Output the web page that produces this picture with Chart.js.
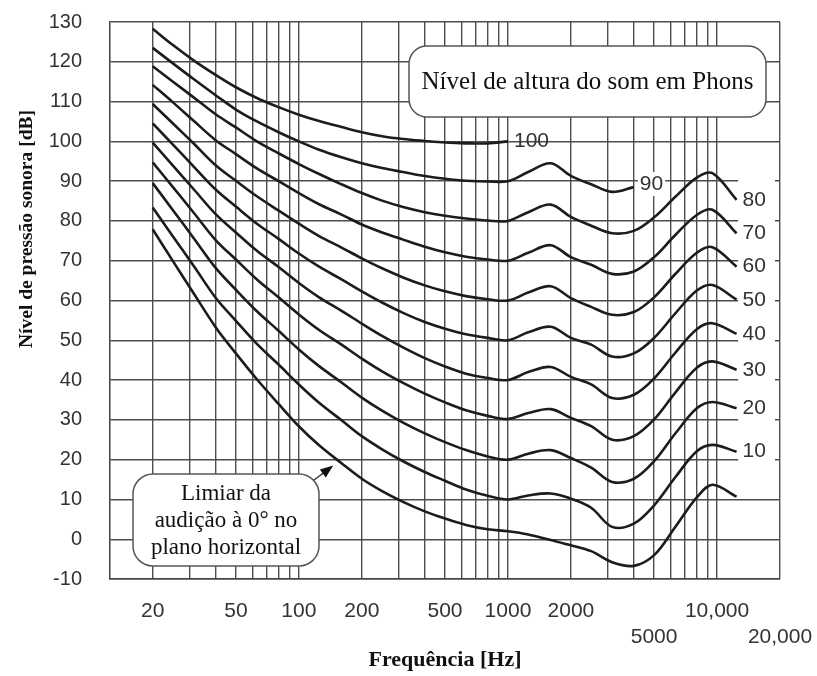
<!DOCTYPE html>
<html>
<head>
<meta charset="utf-8">
<script src="https://cdn.jsdelivr.net/npm/chart.js@4.4.1/dist/chart.umd.min.js"></script>
<style>
html,body{margin:0;padding:0;background:#fff;}
#wrap{width:817px;height:676px;position:relative;}
</style>
</head>
<body>
<div id="wrap"><canvas id="c" width="817" height="676"></canvas></div>
<script>
// Frequencies (Hz) at which the contours were read
const freqs = [20, 25, 31.5, 40, 50, 63, 80, 100, 125, 160, 200, 250, 315, 400, 500, 630, 800, 1000, 1250, 1600, 2000, 2500, 3150, 4000, 5000, 6300, 8000, 9500, 12400];

// Sound pressure level (dB) of each equal-loudness contour
const phon100 = [128.3, 124.2, 120.3, 116.7, 113.6, 110.9, 108.6, 106.7, 105.1, 103.6, 102.3, 101.3, 100.6, 100.1, 99.7, 99.5, 99.5, 100.0, null, null, null, null, null, null, null, null, null, null, null];
const phon90  = [123.5, 119.6, 115.6, 111.6, 108.0, 105.0, 102.3, 100.0, 97.9, 96.0, 94.5, 93.3, 92.3, 91.3, 90.6, 90.1, 89.9, 90.0, 92.3, 94.5, 91.3, 89.2, 87.3, 88.5, null, null, null, null, null];
const phon80  = [118.9, 115.0, 111.0, 106.8, 103.5, 100.0, 97.0, 94.3, 91.8, 89.2, 87.0, 85.1, 83.5, 82.2, 81.3, 80.6, 80.1, 80.0, 82.2, 84.1, 81.0, 78.8, 76.9, 77.5, 80.9, 86.0, 90.9, 92.0, 85.3];
const phon70  = [114.2, 109.8, 105.1, 100.3, 96.8, 93.2, 90.0, 87.0, 84.2, 81.6, 79.1, 77.1, 75.3, 73.5, 72.1, 71.0, 70.3, 70.0, 72.0, 73.9, 70.9, 69.0, 66.7, 67.3, 70.9, 76.4, 81.5, 82.8, 76.9];
const phon60  = [109.4, 104.5, 99.4, 94.0, 90.1, 86.2, 82.6, 79.3, 76.2, 73.3, 70.6, 68.1, 65.8, 63.8, 62.3, 61.1, 60.3, 60.0, 62.0, 63.6, 60.6, 58.4, 56.4, 57.1, 60.8, 66.6, 72.0, 73.4, 68.5];
const phon50  = [104.5, 99.2, 93.6, 87.9, 83.6, 79.3, 75.5, 71.8, 68.5, 65.3, 62.3, 59.5, 56.9, 54.6, 52.9, 51.5, 50.6, 50.0, 52.0, 53.4, 50.6, 48.9, 45.9, 46.7, 50.6, 56.7, 62.5, 63.9, 60.2];
const phon40  = [99.7, 93.9, 87.9, 81.7, 77.1, 72.5, 68.4, 64.4, 60.8, 57.4, 54.2, 51.1, 48.2, 45.5, 43.4, 41.6, 40.5, 40.0, 42.0, 43.3, 40.8, 38.9, 35.5, 36.3, 40.4, 46.8, 52.8, 54.3, 51.6];
const phon30  = [94.7, 88.5, 82.0, 75.2, 70.3, 65.3, 60.8, 56.5, 52.6, 48.9, 45.4, 42.2, 39.3, 36.6, 34.4, 32.4, 31.0, 30.2, 31.7, 32.7, 30.5, 28.4, 25.0, 25.9, 30.1, 36.8, 43.1, 44.7, 42.6];
const phon20  = [89.5, 82.7, 75.6, 68.2, 62.7, 57.3, 52.4, 47.7, 43.5, 39.4, 35.6, 32.3, 29.3, 26.6, 24.4, 22.4, 20.8, 20.0, 21.5, 22.4, 20.4, 18.0, 14.4, 15.2, 19.6, 26.5, 32.9, 34.5, 32.9];
const phon10  = [83.4, 76.1, 68.6, 60.7, 54.9, 49.1, 43.9, 38.9, 34.3, 29.9, 25.9, 22.6, 19.6, 16.9, 14.7, 12.5, 10.9, 10.0, 11.0, 11.5, 10.2, 7.9, 3.1, 3.9, 8.5, 15.5, 22.1, 23.7, 22.0];
const phon0   = [77.9, 69.9, 61.7, 53.3, 46.7, 40.2, 34.0, 28.4, 23.6, 19.1, 15.2, 12.1, 9.4, 7.0, 5.2, 3.6, 2.5, 2.0, 1.2, -0.2, -1.5, -3.0, -5.8, -6.7, -4.0, 3.0, 10.5, 13.7, 10.7];

const curves = [phon100, phon90, phon80, phon70, phon60, phon50, phon40, phon30, phon20, phon10, phon0];
const curveLabels = ['100', '90', '80', '70', '60', '50', '40', '30', '20', '10', ''];

// Axis ticks
const xGridValues = [20, 30, 40, 50, 60, 70, 80, 90, 100, 200, 300, 400, 500, 600, 700, 800, 900, 1000, 2000, 3000, 4000, 5000, 6000, 7000, 8000, 9000, 10000, 20000];
const xTickLabels = {20: '20', 50: '50', 100: '100', 200: '200', 500: '500', 1000: '1000', 2000: '2000', 5000: ['', '5000'], 10000: '10,000', 20000: ['', '20,000']};
const yMin = -10, yMax = 130, yStep = 10;

// Texts
const xTitle = 'Frequência [Hz]';
const yTitle = 'Nível de pressão sonora [dB]';
const topBoxText = 'Nível de altura do som em Phons';
const thresholdText = ['Limiar da', 'audição à 0° no', 'plano horizontal'];
const arrowTarget = {x: 146, y: 18.5};

const SANS = '"Liberation Sans", Arial, Helvetica, sans-serif';
const SERIF = '"Liberation Serif", "Times New Roman", Times, serif';
const GRID = '#4d4d4d';
const INK = '#1c1c1c';

const datasets = curves.map((vals, i) => ({
  label: curveLabels[i] || 'limiar',
  data: freqs.map((f, j) => ({x: f, y: vals[j]})).filter(p => p.y !== null),
  borderColor: INK,
  borderWidth: 2.6,
  pointRadius: 0,
  fill: false,
  tension: 0.35
}));

function roundRect(ctx, x, y, w, h, r) {
  ctx.beginPath();
  ctx.moveTo(x + r, y);
  ctx.lineTo(x + w - r, y);
  ctx.arcTo(x + w, y, x + w, y + r, r);
  ctx.lineTo(x + w, y + h - r);
  ctx.arcTo(x + w, y + h, x + w - r, y + h, r);
  ctx.lineTo(x + r, y + h);
  ctx.arcTo(x, y + h, x, y + h - r, r);
  ctx.lineTo(x, y + r);
  ctx.arcTo(x, y, x + r, y, r);
  ctx.closePath();
}

const decor = {
  id: 'decor',
  beforeDatasetsDraw(chart) {
    const {ctx, chartArea: a, scales: {x, y}} = chart;
    ctx.save();
    // white band behind right-hand labels
    const x0 = x.getPixelForValue(12400) + 1.5;
    ctx.fillStyle = '#fff';
    ctx.fillRect(x0, y.getPixelForValue(93), a.right - 5 - x0, y.getPixelForValue(17.5) - y.getPixelForValue(93));
    // curve labels
    ctx.font = '21px ' + SANS;
    ctx.textBaseline = 'middle';
    ctx.textAlign = 'left';
    curves.forEach((vals, i) => {
      if (!curveLabels[i]) return;
      let k = vals.length - 1;
      while (vals[k] === null) k--;
      const px = x.getPixelForValue(freqs[k]) + 6;
      const py = y.getPixelForValue(vals[k]) - (i === 1 ? 3 : 0);
      const w = ctx.measureText(curveLabels[i]).width;
      if (i === 1) {
        ctx.fillStyle = '#fff';
        ctx.fillRect(px - 2, py - 12, w + 4, 24);
      }
      ctx.fillStyle = '#333';
      ctx.fillText(curveLabels[i], px, py);
    });
    ctx.restore();
  },
  afterDatasetsDraw(chart) {
    const {ctx, chartArea: a, scales: {x, y}} = chart;
    ctx.save();
    // top legend box
    const bx = a.left + 299, by = a.top + 24, bw = 357, bh = 71;
    roundRect(ctx, bx, by, bw, bh, 18);
    ctx.fillStyle = '#fff';
    ctx.fill();
    ctx.strokeStyle = '#555';
    ctx.lineWidth = 1.5;
    ctx.stroke();
    ctx.fillStyle = '#111';
    ctx.font = '25px ' + SERIF;
    ctx.textAlign = 'center';
    ctx.textBaseline = 'middle';
    ctx.fillText(topBoxText, bx + bw / 2, by + bh / 2 + 1);

    // threshold box
    const tx = a.left + 23, ty = a.top + 452, tw = 186, th = 92;
    // arrow
    const ax = x.getPixelForValue(arrowTarget.x), ay = y.getPixelForValue(arrowTarget.y);
    const sx = tx + tw - 5, sy = ty + 6;
    const ang = Math.atan2(ay - sy, ax - sx);
    ctx.strokeStyle = '#333';
    ctx.lineWidth = 1.3;
    ctx.beginPath();
    ctx.moveTo(sx, sy);
    ctx.lineTo(ax - 10 * Math.cos(ang), ay - 10 * Math.sin(ang));
    ctx.stroke();
    ctx.fillStyle = '#111';
    ctx.beginPath();
    ctx.moveTo(ax, ay);
    ctx.lineTo(ax - 13 * Math.cos(ang) + 5 * Math.sin(ang), ay - 13 * Math.sin(ang) - 5 * Math.cos(ang));
    ctx.lineTo(ax - 13 * Math.cos(ang) - 5 * Math.sin(ang), ay - 13 * Math.sin(ang) + 5 * Math.cos(ang));
    ctx.closePath();
    ctx.fill();

    roundRect(ctx, tx, ty, tw, th, 20);
    ctx.fillStyle = '#fff';
    ctx.fill();
    ctx.strokeStyle = '#555';
    ctx.lineWidth = 1.5;
    ctx.stroke();
    ctx.fillStyle = '#111';
    ctx.font = '23px ' + SERIF;
    thresholdText.forEach((t, i) => ctx.fillText(t, tx + tw / 2, ty + 20 + i * 27));
    ctx.restore();
  },
  afterDraw(chart) {
    const {ctx, chartArea: a} = chart;
    ctx.save();
    ctx.translate(a.left - 83, a.top + 207);
    ctx.rotate(-Math.PI / 2);
    ctx.font = 'bold 19.5px ' + SERIF;
    ctx.fillStyle = '#111';
    ctx.textAlign = 'center';
    ctx.textBaseline = 'middle';
    ctx.fillText(yTitle, 0, 0);
    ctx.restore();
  }
};

new Chart(document.getElementById('c'), {
  type: 'line',
  data: {datasets},
  options: {
    responsive: false,
    devicePixelRatio: 1,
    animation: false,
    events: [],
    layout: {padding: {top: 22, right: 37, left: 0, bottom: 0}},
    plugins: {legend: {display: false}, tooltip: {enabled: false}},
    scales: {
      x: {
        type: 'logarithmic',
        min: 12.5,
        max: 20000,
        afterBuildTicks: s => { s.ticks = xGridValues.map(v => ({value: v})); },
        afterFit: s => { s.height = 97; s.paddingLeft = 0; s.paddingRight = 0; },
        ticks: {
          autoSkip: false,
          maxRotation: 0,
          minRotation: 0,
          padding: 20,
          color: '#333',
          font: {family: SANS, size: 21, lineHeight: 1.2},
          callback: v => (xTickLabels[v] !== undefined ? xTickLabels[v] : '')
        },
        grid: {color: GRID, lineWidth: 1.4, drawTicks: false},
        border: {display: true, color: '#444', width: 1.5},
        title: {display: true, text: xTitle, color: '#111', font: {family: SERIF, size: 22, weight: 'bold', lineHeight: 1.2}, padding: {top: 0, bottom: 2}}
      },
      y: {
        type: 'linear',
        min: yMin,
        max: yMax,
        afterFit: s => { s.width = 110; s.paddingTop = 0; s.paddingBottom = 0; },
        ticks: {stepSize: yStep, padding: 28, color: '#333', font: {family: SANS, size: 20}},
        grid: {color: GRID, lineWidth: 1.4, drawTicks: false},
        border: {display: true, color: '#444', width: 1.5}
      }
    }
  },
  plugins: [decor]
});
</script>
</body>
</html>
